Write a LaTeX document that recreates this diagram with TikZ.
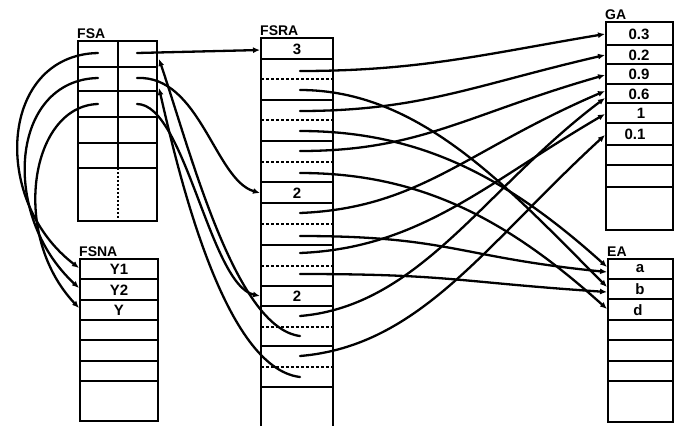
\documentclass[tikz,border=0pt]{standalone}
\usepackage{fontspec}
\setsansfont{Liberation Sans}
\usetikzlibrary{arrows.meta}

\tikzset{
  box/.style={line width=2.4pt},
  dsep/.style={line width=2pt, dash pattern=on 3pt off 2pt},
  lnk/.style={line width=2.3pt, line cap=round, -{Latex[length=7pt,width=6pt]}},
  txt/.style={font=\sffamily\bfseries\fontsize{15}{15}\selectfont, inner sep=0pt},
  ttl/.style={font=\sffamily\bfseries\fontsize{14}{14}\selectfont, inner sep=0pt, anchor=south west}
}

\begin{document}
\begin{tikzpicture}[x=1pt, y=-1pt]
\useasboundingbox ( 0, 0 ) rectangle ( 676, 426 );

% FSA
\draw [box] ( 78, 41 ) rectangle ( 157, 221 );
\foreach \y in {67, 91, 117, 143, 168}
  \draw [box] ( 78, \y ) -- ++( 79, 0 );
\draw [box] ( 118, 41 ) -- ( 118, 168 );
\draw [line width=2pt, dash pattern=on 2pt off 2pt] ( 118, 168 ) -- ( 118, 221 );

% FSNA
\draw [box] ( 80, 259 ) rectangle ( 158, 421 );
\foreach \y in {279, 300, 320, 340, 361, 381}
  \draw [box] ( 80, \y ) -- ++( 78, 0 );

% FSRA
\draw [box] ( 261, 426 ) -- ( 261, 38 ) -- ( 333, 38 ) -- ( 333, 426 );
\foreach \y in {59, 100, 141, 182, 203, 245, 286, 306, 346, 387}
  \draw [box] ( 261, \y ) -- ++( 72, 0 );
\foreach \y in {79, 120, 162, 224, 266, 327, 367}
  \draw [dsep] ( 261, \y ) -- ++( 72, 0 );

% GA
\draw [box] ( 606, 22 ) rectangle ( 673, 230 );
\foreach \y in {45, 64, 84, 103, 123, 145, 165, 187}
  \draw [box] ( 606, \y ) -- ++( 67, 0 );

% EA
\draw [box] ( 608, 259 ) rectangle ( 673, 422 );
\foreach \y in {279, 299, 320, 340, 361, 381}
  \draw [box] ( 608, \y ) -- ++( 65, 0 );

% Labels
\node [ttl] (fsa) at ( 77, 39 ) {FSA};
\node [ttl] (fsna) at ( 79, 257 ) {FSNA};
\node [ttl] (fsra) at ( 260, 36 ) {FSRA};
\node [ttl] (ga) at ( 605, 20 ) {GA};
\node [ttl] (ea) at ( 607, 257 ) {EA};

\node [txt] (n3) at ( 297, 49 ) {3};
\node [txt] (n2a) at ( 297, 193 ) {2};
\node [txt] (n2b) at ( 297, 296 ) {2};
\node [txt] (y1) at ( 119, 269 ) {Y1};
\node [txt] (y2) at ( 119, 290 ) {Y2};
\node [txt] (y0) at ( 119, 310 ) {Y};
\node [txt] (g03) at ( 639, 34 ) {0.3};
\node [txt] (g02) at ( 639, 55 ) {0.2};
\node [txt] (g09) at ( 639, 74 ) {0.9};
\node [txt] (g06) at ( 639, 94 ) {0.6};
\node [txt] (g1) at ( 641, 113 ) {1};
\node [txt] (g01) at ( 635, 134 ) {0.1};
\node [txt] (ea-a) at ( 640, 269 ) {a};
\node [txt] (ea-b) at ( 640, 289 ) {b};
\node [txt] (ea-d) at ( 638, 310 ) {d};

% Pointer ends
\coordinate (fsa-l1) at ( 98, 53 );
\coordinate (fsa-l2) at ( 98, 78 );
\coordinate (fsa-l3) at ( 98, 104 );
\coordinate (fsa-r1) at ( 137, 53 );
\coordinate (fsa-r2) at ( 137, 78 );
\coordinate (fsa-r3) at ( 137, 104 );
\coordinate (fsa-in1) at ( 159, 59 );
\coordinate (fsa-in2) at ( 159, 88 );
\coordinate (fsna-in1) at ( 79, 268 );
\coordinate (fsna-in2) at ( 79, 288 );
\coordinate (fsna-in3) at ( 79, 308 );
\coordinate (fsra-in1) at ( 260, 50 );
\coordinate (fsra-in2) at ( 260, 193 );
\coordinate (fsra-in3) at ( 260, 296 );
\coordinate (fsra-g1) at ( 300, 71 );
\coordinate (fsra-g2) at ( 300, 111 );
\coordinate (fsra-g3) at ( 300, 151 );
\coordinate (fsra-g4) at ( 300, 213 );
\coordinate (fsra-g5) at ( 300, 253 );
\coordinate (fsra-g6) at ( 300, 316 );
\coordinate (fsra-g7) at ( 300, 356 );
\coordinate (fsra-e1) at ( 300, 90 );
\coordinate (fsra-e2) at ( 300, 131 );
\coordinate (fsra-e3) at ( 300, 173 );
\coordinate (fsra-e4) at ( 300, 236 );
\coordinate (fsra-e5) at ( 300, 274 );
\coordinate (fsra-f1) at ( 300, 336 );
\coordinate (fsra-f2) at ( 300, 377 );
\coordinate (ga-in1) at ( 605, 34 );
\coordinate (ga-in2) at ( 605, 55 );
\coordinate (ga-in3) at ( 605, 75 );
\coordinate (ga-in4) at ( 605, 91 );
\coordinate (ga-in4b) at ( 605, 98 );
\coordinate (ga-in5) at ( 605, 114 );
\coordinate (ga-in6) at ( 605, 135 );
\coordinate (ea-in1) at ( 607, 267 );
\coordinate (ea-in1b) at ( 607, 272 );
\coordinate (ea-in2) at ( 607, 287 );
\coordinate (ea-in2b) at ( 607, 292 );
\coordinate (ea-in3) at ( 607, 309 );

% FSA to FSNA
\draw [lnk] (fsa-l1) .. controls ( 0, 55 ) and ( -10, 200 ) .. (fsna-in1);
\draw [lnk] (fsa-l2) .. controls ( 10, 80 ) and ( 0, 215 ) .. (fsna-in2);
\draw [lnk] (fsa-l3) .. controls ( 30, 106 ) and ( 10, 235 ) .. (fsna-in3);

% FSA to FSRA
\draw [lnk] (fsa-r1) -- (fsra-in1);
\draw [lnk] (fsa-r2) .. controls ( 200, 75 ) and ( 215, 180 ) .. (fsra-in2);
\draw [lnk] (fsa-r3) .. controls ( 185, 104 ) and ( 210, 285 ) .. (fsra-in3);

% FSRA back to FSA
\draw [lnk] (fsra-f1) .. controls ( 235, 328 ) and ( 190, 150 ) .. (fsa-in1);
\draw [lnk] (fsra-f2) .. controls ( 225, 368 ) and ( 180, 180 ) .. (fsa-in2);

% FSRA to GA
\draw [lnk] (fsra-g1) .. controls +( 120, 0 ) and +( -120, 20 ) .. (ga-in1);
\draw [lnk] (fsra-g2) .. controls +( 120, 0 ) and +( -130, 30 ) .. (ga-in2);
\draw [lnk] (fsra-g3) .. controls +( 120, 0 ) and +( -140, 40 ) .. (ga-in3);
\draw [lnk] (fsra-g4) .. controls +( 120, -5 ) and +( -140, 60 ) .. (ga-in4);
\draw [lnk] (fsra-g5) .. controls +( 120, -5 ) and +( -120, 70 ) .. (ga-in5);
\draw [lnk] (fsra-g6) .. controls +( 120, -10 ) and +( -120, 90 ) .. (ga-in4b);
\draw [lnk] (fsra-g7) .. controls +( 120, -10 ) and +( -120, 110 ) .. (ga-in6);

% FSRA to EA
\draw [lnk] (fsra-e1) .. controls +( 120, 0 ) and +( -100, -100 ) .. (ea-in2);
\draw [lnk] (fsra-e2) .. controls +( 120, 0 ) and +( -100, -90 ) .. (ea-in1);
\draw [lnk] (fsra-e3) .. controls +( 120, 0 ) and +( -100, -90 ) .. (ea-in3);
\draw [lnk] (fsra-e4) .. controls +( 150, 0 ) and +( -150, -15 ) .. (ea-in1b);
\draw [lnk] (fsra-e5) .. controls +( 150, 0 ) and +( -150, -10 ) .. (ea-in2b);

\end{tikzpicture}
\end{document}
